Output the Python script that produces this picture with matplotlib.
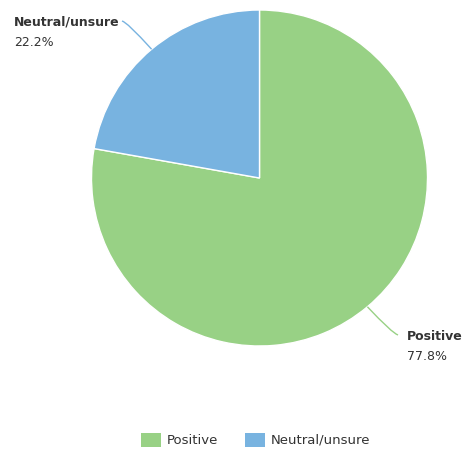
import numpy as np
import matplotlib
matplotlib.use("Agg")
import matplotlib.pyplot as plt
from matplotlib.patches import Rectangle
from matplotlib.path import Path
from matplotlib.patches import PathPatch

categories = ["Positive", "Neutral/unsure"]
values = [77.8, 22.2]
colors = ["#98D185", "#78B3E0"]
text_color = "#333333"

W, H = 464, 450
fig = plt.figure(figsize=(W / 100, H / 100), dpi=100)
ax = fig.add_axes([0, 0, 1, 1])

cx, cy, r = 259.5, H - 178, 168
wedges, _ = ax.pie(values, colors=colors, startangle=90, counterclock=False,
                   center=(cx, cy), radius=r, frame=True,
                   wedgeprops=dict(edgecolor="white", linewidth=1))
ax.set_xlim(0, W)
ax.set_ylim(0, H)
ax.set_aspect("equal")
ax.axis("off")

# connector lines and labels
label_pos = {
    "Positive": dict(bend=(392, H - 333), end=(398, H - 335), text=(407, H - 337)),
    "Neutral/unsure": dict(bend=(127, H - 22), end=(122, H - 21), text=(14, H - 22)),
}
for w, cat, val, col in zip(wedges, categories, values, colors):
    mid = np.deg2rad((w.theta1 + w.theta2) / 2)
    ex, ey = cx + r * np.cos(mid), cy + r * np.sin(mid)
    p = label_pos[cat]
    path = Path([(ex, ey), p["bend"], p["end"]], [Path.MOVETO, Path.CURVE3, Path.CURVE3])
    ax.add_patch(PathPatch(path, fill=False, edgecolor=col, linewidth=1))
    tx, ty = p["text"]
    ax.text(tx, ty, cat, fontsize=9, fontweight="bold", color=text_color,
            ha="left", va="center")
    ax.text(tx, ty - 20, f"{val}%", fontsize=9, color=text_color,
            ha="left", va="center")

# legend
legend_items = [(141, 167), (245, 271)]
for (sx, tx), cat, col in zip(legend_items, categories, colors):
    ax.add_patch(Rectangle((sx, H - 447), 20, 14, facecolor=col, edgecolor="none"))
    ax.text(tx, H - 440, cat, fontsize=9.5, color=text_color, ha="left", va="center")

fig.savefig("out.png", dpi=100)
